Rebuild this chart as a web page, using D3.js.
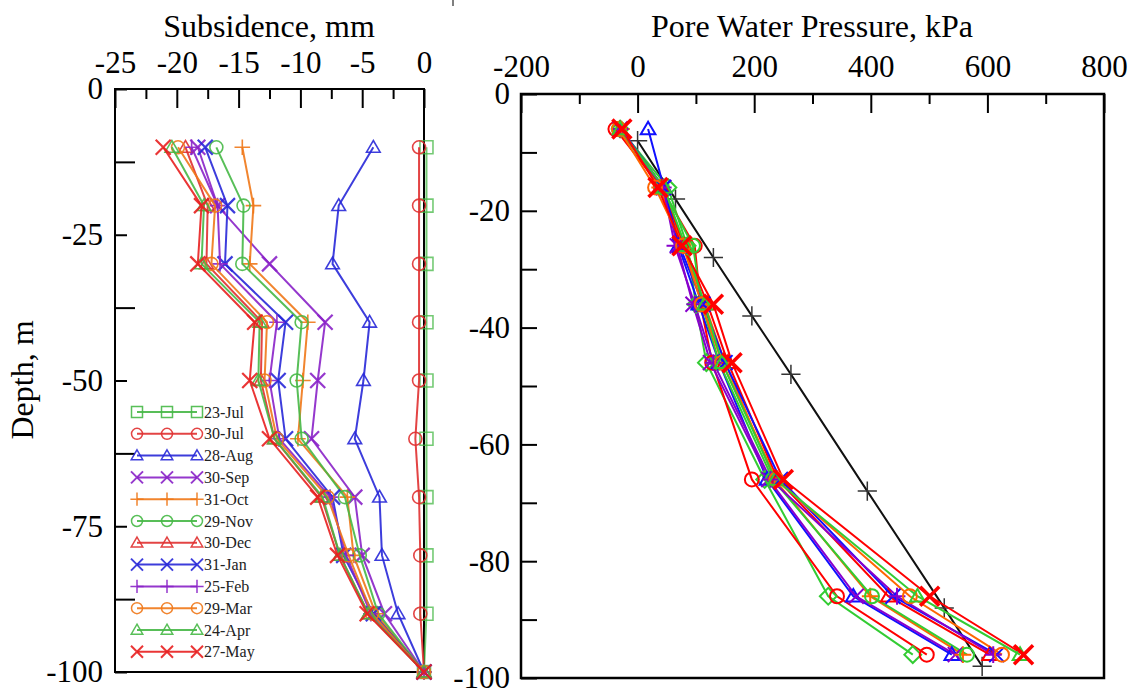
<!DOCTYPE html>
<html><head><meta charset="utf-8">
<script src="https://cdn.jsdelivr.net/npm/d3@7"></script>
<style>body{margin:0;background:#fff}svg{display:block}</style>
</head><body>
<svg id="c" width="1131" height="688"></svg>
<script>
// ---------- DATA ----------
const dates = ["23-Jul","30-Jul","28-Aug","30-Sep","31-Oct","29-Nov","30-Dec","31-Jan","25-Feb","29-Mar","24-Apr","27-May"];
const seriesColors = ["#46b846","#e03030","#2828d8","#8a22c8","#f07818","#46b846","#e03030","#2828d8","#8a22c8","#f07818","#46b846","#e82020"];
const seriesMarkers = ["square","circle","triangle","x","plus","circle","triangle","x","plus","circle","triangle","x"];
const porMarkers = ["diamond","circle","triangle","x","plus","circle","triangle","x","plus","circle","triangle","x"];

const subsDepths = [-10,-20,-30,-40,-50,-60,-70,-80,-90,-100];
const subs23Jul = [0.2,0.2,0.2,0.2,0.2,0.2,0.2,0.2,0.2,0];
const subs30Jul = [-0.4,-0.4,-0.4,-0.4,-0.4,-0.7,-0.4,-0.3,-0.3,0];
const subs28Aug = [-4.1,-6.9,-7.4,-4.4,-4.9,-5.6,-3.6,-3.4,-2.1,0];
const subs30Sep = [-18.3,-16.7,-12.5,-8.0,-8.6,-9.1,-5.6,-5.0,-3.2,0];
const subs31Oct = [-14.7,-13.8,-14.1,-9.4,-9.8,-10.2,-6.2,-5.7,-3.9,0];
const subs29Nov = [-16.8,-14.6,-14.7,-9.9,-10.3,-9.9,-6.4,-5.2,-3.7,0];
const subs30Dec = [-19.3,-17.5,-17.6,-13.1,-13.2,-12.1,-8.3,-6.8,-4.5,0];
const subs31Jan = [-17.7,-15.9,-16.1,-11.2,-11.8,-11.2,-7.4,-6.5,-4.1,0];
const subs25Feb = [-18.8,-16.7,-16.5,-11.9,-12.5,-11.7,-7.6,-6.3,-4.3,0];
const subs29Mar = [-19.9,-16.9,-17.2,-12.7,-12.9,-11.9,-7.8,-6.1,-4.2,0];
const subs24Apr = [-20.4,-17.8,-18.0,-13.3,-13.4,-12.1,-8.2,-6.8,-4.5,0];
const subs27May = [-21.1,-18.0,-18.3,-13.7,-14.1,-12.5,-8.6,-7.0,-4.6,0];
const subsSeries = [subs23Jul,subs30Jul,subs28Aug,subs30Sep,subs31Oct,subs29Nov,subs30Dec,subs31Jan,subs25Feb,subs29Mar,subs24Apr,subs27May];

const porDepths = [-6,-16,-26,-36,-46,-66,-86,-96];
const por23Jul = [-30,52,85,100,118,218,327,472];
const por30Jul = [-38,40,98,108,128,196,342,496];
const por28Aug = [18,45,70,105,140,222,370,539];
const por30Sep = [-30,45,68,95,125,225,375,545];
const por31Oct = [-28,38,78,115,150,235,399,558];
const por29Nov = [-32,42,95,110,140,232,402,565];
const por30Dec = [-30,42,80,120,155,240,430,604];
const por31Jan = [-28,44,72,112,150,245,438,616];
const por25Feb = [-30,44,64,98,130,228,445,610];
const por29Mar = [-32,30,78,110,145,238,467,625];
const por24Apr = [-30,45,82,115,145,236,480,656];
const por27May = [-27,35,76,130,162,250,501,662];
const porSeries = [por23Jul,por30Jul,por28Aug,por30Sep,por31Oct,por29Nov,por30Dec,por31Jan,por25Feb,por29Mar,por24Apr,por27May];

const hydroDepths = [-8,-18,-28,-38,-48,-68,-88,-98];
const hydroValues = [0,65,130,196,263,394,526,591];

const subsMajor = [-25,-20,-15,-10,-5,0];
const subsMinor = [-22.5,-17.5,-12.5,-7.5,-2.5];
const depthLabelsL = [0,-25,-50,-75,-100];
const depthMinorL = [-12.5,-37.5,-62.5,-87.5];
const porMajor = [-200,0,200,400,600,800];
const porMinor = [-100,100,300,500,700];
const depthTicksR = [0,-10,-20,-30,-40,-50,-60,-70,-80,-90,-100];

// ---------- DRAW ----------
const FONT = "'Liberation Serif','Times New Roman',serif";
const svg = d3.select("#c");
const fmt = d => String(d);

function markerPath(type, r){
  switch(type){
    case "square": return `M${-r},${-r}H${r}V${r}H${-r}Z`;
    case "circle": return `M${r},0A${r},${r} 0 1,1 ${-r},0A${r},${r} 0 1,1 ${r},0Z`;
    case "triangle": return `M0,${-r*1.05}L${r*1.05},${r*0.75}L${-r*1.05},${r*0.75}Z`;
    case "diamond": return `M0,${-r*1.2}L${r*1.2},0L0,${r*1.2}L${-r*1.2},0Z`;
    case "x": return `M${-r},${-r}L${r},${r}M${-r},${r}L${r},${-r}`;
    case "plus": return `M${-r*1.2},0H${r*1.2}M0,${-r*1.2}V${r*1.2}`;
  }
}

function styleAxis(g, size){
  g.select(".domain").remove();
  g.selectAll("text").attr("font-family", FONT).attr("font-size", size).attr("fill","#000");
  g.selectAll("line").attr("stroke","#000").attr("stroke-width",2);
}

// Left panel
const L = {x0:115, x1:424, y0:89, y1:672};
const xL = d3.scaleLinear().domain([-25,0]).range([L.x0,L.x1]);
const yL = d3.scaleLinear().domain([0,-100]).range([L.y0,L.y1]);

const gL = svg.append("g");
gL.append("g").attr("transform",`translate(0,${L.y0})`)
  .call(d3.axisTop(xL).tickValues(subsMajor).tickSizeInner(-19).tickSizeOuter(0).tickPadding(16).tickFormat(fmt))
  .call(g=>styleAxis(g,31));
gL.append("g").attr("transform",`translate(0,${L.y0})`)
  .call(d3.axisTop(xL).tickValues(subsMinor).tickSizeInner(-10).tickSizeOuter(0).tickFormat(""))
  .call(g=>styleAxis(g,31));
gL.append("g").attr("transform",`translate(${L.x0},0)`)
  .call(d3.axisLeft(yL).tickValues(depthLabelsL).tickSizeInner(-12).tickSizeOuter(0).tickPadding(12).tickFormat(fmt))
  .call(g=>styleAxis(g,31));
gL.append("g").attr("transform",`translate(${L.x0},0)`)
  .call(d3.axisLeft(yL).tickValues(depthMinorL).tickSizeInner(-20).tickSizeOuter(0).tickFormat(""))
  .call(g=>styleAxis(g,31));

gL.append("path").attr("d",`M${L.x0},${L.y0}H${L.x1}V${L.y1}H${L.x0}Z`)
  .attr("fill","none").attr("stroke","#000").attr("stroke-width",2);

const lineL = d3.line().x(d=>xL(d[0])).y(d=>yL(d[1]));
subsSeries.forEach((vals,i)=>{
  const pts = vals.map((v,j)=>[v,subsDepths[j]]);
  const col = seriesColors[i];
  const op = i===0 ? 0.75 : 0.9;
  gL.append("path").attr("d",lineL(pts)).attr("fill","none").attr("stroke",col)
    .attr("stroke-width",2).attr("opacity",op);
  gL.append("g").selectAll("path").data(pts).join("path")
    .attr("transform",d=>`translate(${xL(d[0])},${yL(d[1])})`)
    .attr("d",markerPath(seriesMarkers[i], seriesMarkers[i]==="x"?7.5:6.5))
    .attr("fill","none").attr("stroke",col).attr("stroke-width",seriesMarkers[i]==="x"?2.2:1.6).attr("opacity",op);
});

// legend
const leg = gL.append("g");
dates.forEach((d,i)=>{
  const y = 412 + i*21.8;
  const col = seriesColors[i];
  leg.append("line").attr("x1",137).attr("x2",197).attr("y1",y).attr("y2",y)
    .attr("stroke",col).attr("stroke-width",2).attr("opacity",0.9);
  [137,167,197].forEach(x=>{
    leg.append("path").attr("transform",`translate(${x},${y})`)
      .attr("d",markerPath(seriesMarkers[i], seriesMarkers[i]==="x"?6:5.5))
      .attr("fill","none").attr("stroke",col).attr("stroke-width",seriesMarkers[i]==="x"?2:1.5).attr("opacity",0.9);
  });
  leg.append("text").attr("x",204).attr("y",y+5.5).text(d)
    .attr("font-family",FONT).attr("font-size",16).attr("fill","#222");
});

svg.append("text").attr("x",269).attr("y",37).attr("text-anchor","middle")
  .attr("font-family",FONT).attr("font-size",32).text("Subsidence, mm");
svg.append("text").attr("transform","translate(33,380) rotate(-90)").attr("text-anchor","middle")
  .attr("font-family",FONT).attr("font-size",32).text("Depth, m");

// Right panel
const R = {x0:521, x1:1104, y0:94, y1:678};
const xR = d3.scaleLinear().domain([-200,800]).range([R.x0,R.x1]);
const yR = d3.scaleLinear().domain([0,-100]).range([R.y0,R.y1]);
const gR = svg.append("g");
gR.append("g").attr("transform",`translate(0,${R.y0})`)
  .call(d3.axisTop(xR).tickValues(porMajor).tickSizeInner(-19).tickSizeOuter(0).tickPadding(17).tickFormat(fmt))
  .call(g=>styleAxis(g,31));
gR.append("g").attr("transform",`translate(0,${R.y0})`)
  .call(d3.axisTop(xR).tickValues(porMinor).tickSizeInner(-10).tickSizeOuter(0).tickFormat(""))
  .call(g=>styleAxis(g,31));
gR.append("g").attr("transform",`translate(${R.x0},0)`)
  .call(d3.axisLeft(yR).tickValues(depthTicksR).tickSizeInner(-16).tickSizeOuter(0).tickPadding(11)
    .tickFormat(d=> d%20===0 ? fmt(d) : ""))
  .call(g=>styleAxis(g,31));
gR.append("rect").attr("x",R.x0).attr("y",R.y0).attr("width",R.x1-R.x0).attr("height",R.y1-R.y0)
  .attr("fill","none").attr("stroke","#000").attr("stroke-width",2.5);

const lineR = d3.line().x(d=>xR(d[0])).y(d=>yR(d[1]));
const hPts = hydroValues.map((v,j)=>[v,hydroDepths[j]]);
gR.append("path").attr("d",lineR(hPts)).attr("fill","none").attr("stroke","#111").attr("stroke-width",2);
gR.append("g").selectAll("path").data(hPts).join("path")
  .attr("transform",d=>`translate(${xR(d[0])},${yR(d[1])})`)
  .attr("d",markerPath("plus",8)).attr("fill","none").attr("stroke","#333").attr("stroke-width",1.5);

const porColors = ["#33cc33","#ff0000","#1010ff","#8800cc","#ff6600","#33cc33","#ff0000","#1010ff","#8800cc","#ff6600","#33cc33","#ff0000"];
porSeries.forEach((vals,i)=>{
  const pts = vals.map((v,j)=>[v,porDepths[j]]);
  gR.append("path").attr("d",lineR(pts)).attr("fill","none").attr("stroke",porColors[i]).attr("stroke-width",2);
});
porSeries.forEach((vals,i)=>{
  const pts = vals.map((v,j)=>[v,porDepths[j]]);
  const m = porMarkers[i];
  const big = i===11;
  gR.append("g").selectAll("path").data(pts).join("path")
    .attr("transform",d=>`translate(${xR(d[0])},${yR(d[1])})`)
    .attr("d",markerPath(m, big?9.5:(m==="x"?7.5:7)))
    .attr("fill","none").attr("stroke",porColors[i]).attr("stroke-width",big?3.5:2);
});

svg.append("text").attr("x",812).attr("y",37).attr("text-anchor","middle")
  .attr("font-family",FONT).attr("font-size",32).text("Pore Water Pressure, kPa");
svg.append("line").attr("x1",453).attr("x2",453).attr("y1",0).attr("y2",6).attr("stroke","#000").attr("stroke-width",1);
</script>
</body></html>
